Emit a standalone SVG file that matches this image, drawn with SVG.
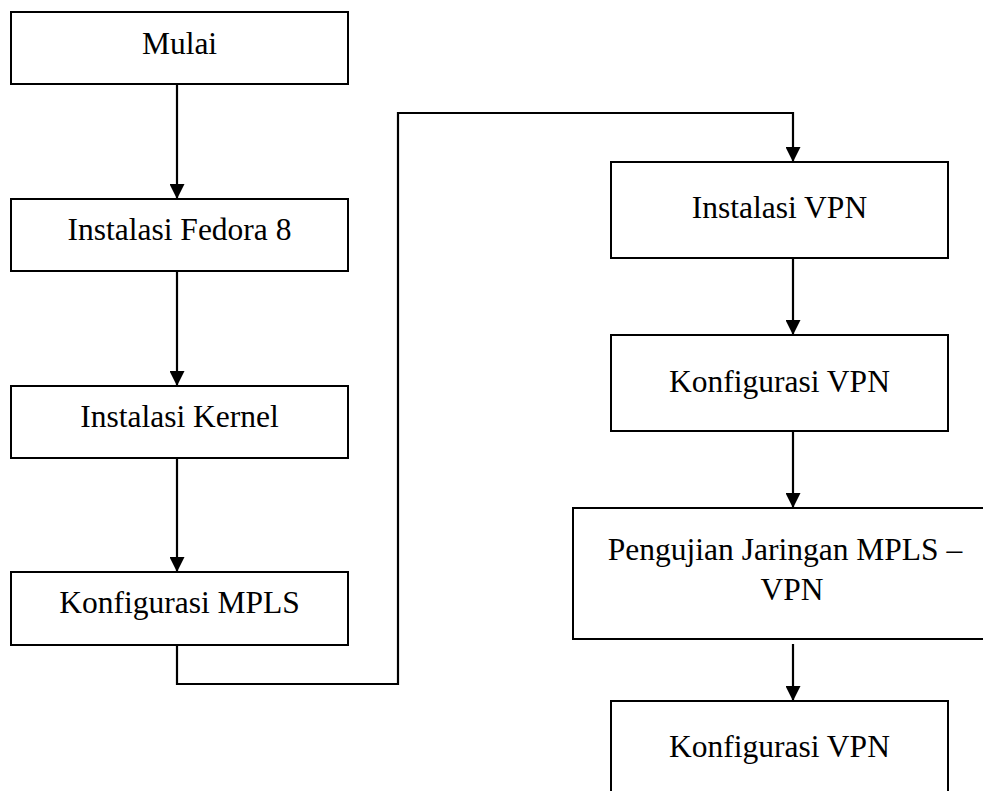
<svg xmlns="http://www.w3.org/2000/svg" width="983" height="791" viewBox="0 0 983 791">
  <style>
    .box { fill: #ffffff; stroke: #000000; stroke-width: 2; }
    .lbl { font-family: "Liberation Serif", "Times New Roman", serif; font-size: 31.5px; fill: #000000; text-anchor: middle; }
    .wire { fill: none; stroke: #000000; stroke-width: 2.2; }
  </style>
  <defs>
    <marker id="head" markerWidth="15" markerHeight="15" refX="15" refY="7.5" orient="auto" markerUnits="userSpaceOnUse">
      <path d="M0,0 L15,7.5 L0,15 Z" fill="#000000"/>
    </marker>
  </defs>
  <rect width="983" height="791" fill="#ffffff"/>

  <g id="connectors">
    <line class="wire" x1="177" y1="84" x2="177" y2="199" marker-end="url(#head)"/>
    <line class="wire" x1="177" y1="271" x2="177" y2="386" marker-end="url(#head)"/>
    <line class="wire" x1="177" y1="458" x2="177" y2="572" marker-end="url(#head)"/>
    <polyline class="wire" points="177,645 177,684 398,684 398,113 793,113 793,162" marker-end="url(#head)"/>
    <line class="wire" x1="793" y1="258" x2="793" y2="335" marker-end="url(#head)"/>
    <line class="wire" x1="793" y1="431" x2="793" y2="508" marker-end="url(#head)"/>
    <line class="wire" x1="793" y1="644" x2="793" y2="701" marker-end="url(#head)"/>
  </g>

  <g id="mulai">
    <rect class="box" x="11" y="12" width="337" height="72"/>
    <text class="lbl" x="179.5" y="54">Mulai</text>
  </g>
  <g id="instalasi-fedora">
    <rect class="box" x="11" y="199" width="337" height="72"/>
    <text class="lbl" x="179.5" y="240">Instalasi Fedora 8</text>
  </g>
  <g id="instalasi-kernel">
    <rect class="box" x="11" y="386" width="337" height="72"/>
    <text class="lbl" x="179.5" y="427">Instalasi Kernel</text>
  </g>
  <g id="konfigurasi-mpls">
    <rect class="box" x="11" y="572" width="337" height="73"/>
    <text class="lbl" x="179.5" y="613">Konfigurasi MPLS</text>
  </g>

  <g id="instalasi-vpn">
    <rect class="box" x="611" y="162" width="337" height="96"/>
    <text class="lbl" x="779.5" y="218">Instalasi VPN</text>
  </g>
  <g id="konfigurasi-vpn">
    <rect class="box" x="611" y="335" width="337" height="96"/>
    <text class="lbl" x="779.5" y="392">Konfigurasi VPN</text>
  </g>
  <g id="pengujian">
    <rect class="box" x="573" y="508" width="440" height="131"/>
    <text class="lbl" x="785" y="560">Pengujian Jaringan MPLS –</text>
    <text class="lbl" x="792" y="600">VPN</text>
  </g>
  <g id="konfigurasi-vpn-2">
    <rect class="box" x="611" y="701" width="337" height="110"/>
    <text class="lbl" x="779.5" y="757">Konfigurasi VPN</text>
  </g>
</svg>
